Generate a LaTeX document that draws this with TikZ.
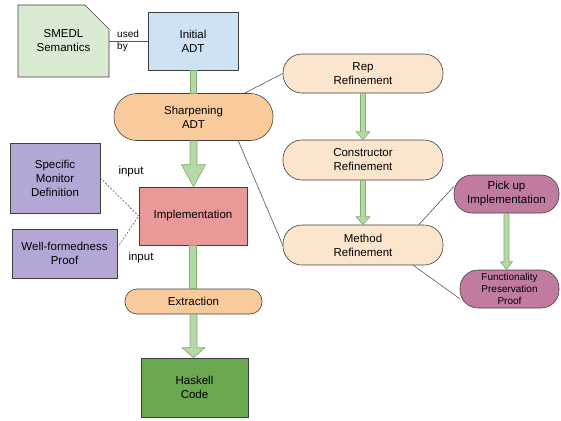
\documentclass[tikz,border=0pt]{standalone}
\usepackage{fontspec}
\setmainfont{Liberation Sans}
\usetikzlibrary{shapes.misc,calc}

\definecolor{smedlgreen}{HTML}{D9EAD3}
\definecolor{adtblue}{HTML}{CFE2F3}
\definecolor{sharporange}{HTML}{F9CB9C}
\definecolor{refineorange}{HTML}{FCE5CD}
\definecolor{monitorpurple}{HTML}{B4A7D6}
\definecolor{implred}{HTML}{EA9999}
\definecolor{haskgreen}{HTML}{6AA84F}
\definecolor{pickmagenta}{HTML}{C27BA0}
\definecolor{arrowfill}{HTML}{B6D7A8}
\definecolor{arrowline}{HTML}{7FB069}
\definecolor{edgegray}{HTML}{555555}

% fat green arrow: from, to, half shaft, half head, head length
\newcommand{\greenarrow}[5]{%
  \filldraw[arrowbody] let \p1=(#1.south), \p2=(#2.north) in
    (\x1-#3,\y1) -- (\x1-#3,\y2+#5) -- (\x1-#4,\y2+#5) -- (\x1,\y2)
    -- (\x1+#4,\y2+#5) -- (\x1+#3,\y2+#5) -- (\x1+#3,\y1) -- cycle;}

\begin{document}
\begin{tikzpicture}[x=1pt, y=-1pt,
  box/.style={rectangle, draw=black!75, line width=0.6pt, align=center, inner sep=2pt,
    font=\fontsize{11.5}{14}\selectfont},
  pill/.style={box, rounded corners=#1},
  arrowbody/.style={fill=arrowfill, draw=arrowline, line width=0.6pt},
  link/.style={draw=edgegray, line width=0.6pt},
  feed/.style={draw=edgegray, line width=0.6pt, dashed, dash pattern=on 2pt off 1.5pt},
  note/.style={font=\fontsize{11.5}{14}\selectfont, inner sep=0pt}]
\useasboundingbox (0,0) rectangle (561,420);

\node[box, chamfered rectangle, chamfered rectangle corners=north east,
  chamfered rectangle xsep=12pt, chamfered rectangle ysep=12pt,
  fill=smedlgreen, minimum width=91pt, minimum height=72pt] (smedl) at (63.5,41) {SMEDL\\Semantics};
\node[box, fill=adtblue, minimum width=90pt, minimum height=58pt] (initial) at (193,41) {Initial\\ADT};
\node[pill=23pt, fill=sharporange, minimum width=159pt, minimum height=47pt] (sharp) at (193.5,117) {Sharpening\\ADT};

\node[pill=19pt, fill=refineorange, minimum width=160pt, minimum height=39pt] (rep) at (363,73.5) {Rep\\Refinement};
\node[pill=19pt, fill=refineorange, minimum width=160pt, minimum height=40pt] (cons) at (363,160) {Constructor\\Refinement};
\node[pill=19pt, fill=refineorange, minimum width=160pt, minimum height=40pt] (meth) at (363,245) {Method\\Refinement};

\node[pill=18pt, fill=pickmagenta, minimum width=105pt, minimum height=38pt] (pick) at (506.5,194) {Pick up\\Implementation};
\node[pill=18pt, fill=pickmagenta, minimum width=99pt, minimum height=38pt,
  font=\fontsize{10}{12}\selectfont] (func) at (509.5,289) {Functionality\\Preservation\\Proof};

\node[box, fill=monitorpurple, minimum width=90pt, minimum height=70pt] (spec) at (55,178) {Specific\\Monitor\\Definition};
\node[box, fill=monitorpurple, minimum width=105pt, minimum height=49pt] (well) at (64.5,253.5) {Well-formedness\\Proof};
\node[box, fill=implred, minimum width=108pt, minimum height=58pt] (impl) at (193,216) {Implementation};
\node[pill=12pt, fill=sharporange, minimum width=137pt, minimum height=25pt] (extr) at (193.5,301.5) {Extraction};
\node[box, fill=haskgreen, minimum width=107pt, minimum height=59pt] (hask) at (194.5,387.5) {Haskell\\Code};

\node[note, anchor=west, align=left, font=\fontsize{10}{12}\selectfont] (usedby) at (117,41) {used\\by};
\node[note] (input1) at (131,172) {input};
\node[note] (input2) at (141,258) {input};

% thin connectors
\draw[link] (smedl.east) edge (initial.west);
\draw[link] (sharp.25) edge (rep.west);
\draw[link] (sharp.-28) edge (meth.west);
\draw[link] (meth.20) edge (pick.172);
\draw[link] (meth.-22) edge (func.191);
\draw[feed] (spec.east) edge (impl.west);
\draw[feed] (well.6) edge (impl.west);

% green arrows
\greenarrow{initial}{sharp}{3pt}{3pt}{0pt}
\greenarrow{sharp}{impl}{3.5pt}{12pt}{22pt}
\greenarrow{rep}{cons}{2.5pt}{7pt}{8pt}
\greenarrow{cons}{meth}{2.5pt}{7pt}{8pt}
\greenarrow{impl}{extr}{3.5pt}{3.5pt}{0pt}
\greenarrow{extr}{hask}{3.5pt}{11.5pt}{10pt}
\greenarrow{pick}{func}{2.5pt}{6pt}{8pt}
\end{tikzpicture}
\end{document}
